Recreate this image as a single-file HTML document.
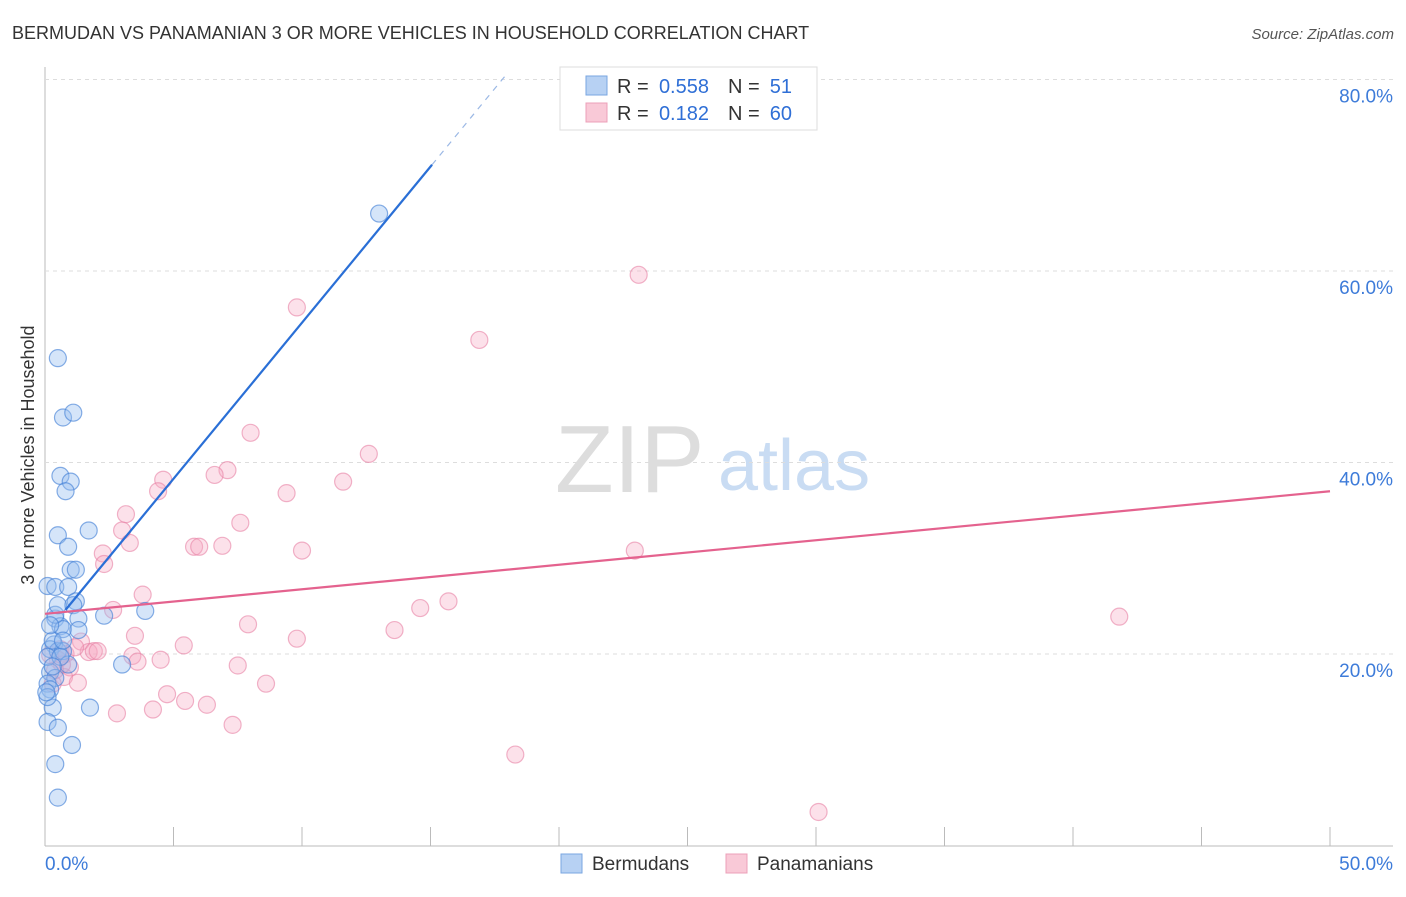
<!DOCTYPE html>
<html><head><meta charset="utf-8"><style>
body{margin:0;background:#fff;font-family:"Liberation Sans",sans-serif}
svg text{font-family:"Liberation Sans",sans-serif}
</style></head><body>
<svg id="c" width="1406" height="892">
<text x="12" y="39" font-size="18" fill="#333">BERMUDAN VS PANAMANIAN 3 OR MORE VEHICLES IN HOUSEHOLD CORRELATION CHART</text>
<text x="1394" y="39" font-size="15" fill="#555" font-style="italic" text-anchor="end">Source: ZipAtlas.com</text>
<text x="555" y="492" font-size="96" fill="#ddd" font-family="Liberation Serif">ZIP</text>
<text x="718" y="490" font-size="72" fill="#c9dcf3">atlas</text>
<text transform="translate(34,455) rotate(-90)" font-size="18" fill="#333" text-anchor="middle">3 or more Vehicles in Household</text>
<g id="grid"></g><g id="pts"></g><g id="lines"></g>
<g>
<rect x="560" y="67" width="257" height="63" fill="#fff" stroke="#ddd"/>
<rect x="586" y="76" width="21" height="19" fill="#b7d1f3" stroke="#7aa6e0"/>
<rect x="586" y="103" width="21" height="19" fill="#f9c9d7" stroke="#eca0b8"/>
<text x="617" y="93" font-size="20" fill="#333">R =</text>
<text x="709" y="93" font-size="20" fill="#2f6fd6" text-anchor="end">0.558</text>
<text x="728" y="93" font-size="20" fill="#333">N =</text>
<text x="792" y="93" font-size="20" fill="#2f6fd6" text-anchor="end">51</text>
<text x="617" y="120" font-size="20" fill="#333">R =</text>
<text x="709" y="120" font-size="20" fill="#2f6fd6" text-anchor="end">0.182</text>
<text x="728" y="120" font-size="20" fill="#333">N =</text>
<text x="792" y="120" font-size="20" fill="#2f6fd6" text-anchor="end">60</text>
</g>
<g>
<rect x="561" y="854" width="21" height="19" fill="#b7d1f3" stroke="#7aa6e0"/>
<text x="592" y="870" font-size="19" fill="#333">Bermudans</text>
<rect x="726" y="854" width="21" height="19" fill="#f9c9d7" stroke="#eca0b8"/>
<text x="757" y="870" font-size="19" fill="#333">Panamanians</text>
</g>
</svg>
<script>
const xTicks=[0,50];
const yTicks=[20,40,60,80];
const blueX=[13.0,0.5,0.7,1.1,0.6,1.0,0.8,0.5,1.7,0.9,1.0,1.2,0.1,0.4,0.9,1.2,1.1,3.9,2.3,1.3,0.4,0.6,0.7,1.3,0.35,0.2,0.5,0.7,0.9,3.0,0.2,0.4,0.1,0.2,0.3,1.75,0.1,0.5,1.05,0.4,0.5,0.1,0.3,0.6,0.1,0.4,0.2,0.5,0.05,0.3,0.7];
const blueY=[66.0,50.9,44.7,45.2,38.6,38.0,37.0,32.4,32.9,31.2,28.8,28.8,27.1,27.0,27.0,25.5,25.1,24.5,24.0,23.7,23.7,22.9,22.6,22.5,21.0,20.5,20.3,20.3,18.9,18.9,18.1,17.5,16.9,16.3,14.4,14.4,12.9,12.3,10.5,8.5,5.0,19.7,21.4,19.7,15.5,24.1,23.0,25.1,16.0,18.7,21.4];
const pinkX=[23.1,9.8,16.9,8.0,12.6,7.1,6.6,4.6,4.4,11.6,9.4,3.15,7.6,3.0,3.3,2.25,5.8,6.0,6.9,10.0,22.95,2.3,3.8,15.7,14.6,2.65,41.8,7.9,3.5,13.6,1.4,5.4,9.8,1.7,1.9,2.05,0.6,0.8,3.4,4.5,3.6,7.5,0.97,0.5,0.74,1.28,8.6,0.3,4.75,5.45,6.3,4.2,2.8,7.3,18.3,30.1,0.66,0.39,1.17,0.2];
const pinkY=[59.6,56.2,52.8,43.1,40.9,39.2,38.7,38.2,37.0,38.0,36.8,34.6,33.7,32.9,31.6,30.5,31.2,31.2,31.3,30.8,30.8,29.4,26.2,25.5,24.8,24.6,23.9,23.1,21.9,22.5,21.3,20.9,21.6,20.2,20.3,20.3,20.5,20.0,19.8,19.4,19.2,18.8,18.6,19.4,17.6,17.0,16.9,16.9,15.8,15.1,14.7,14.2,13.8,12.6,9.5,3.5,18.9,18.3,20.7,19.9];
const blueLine=[0.8,15.06,17.9];
const pinkLine=[0,50];
const bS=3.26,bI=22.0,pS=0.256,pI=24.2;
const X=v=>45+v*25.7, Y=v=>845.5-v*9.575;
const NS='http://www.w3.org/2000/svg';
function mk(t,a,p){const e=document.createElementNS(NS,t);for(const k in a)e.setAttribute(k,a[k]);p.appendChild(e);return e;}
const grid=document.getElementById('grid'),pts=document.getElementById('pts'),lines=document.getElementById('lines'),svg=document.getElementById('c');
let ax=mk('line',{x1:45,y1:67,x2:45,y2:846,stroke:'#bbb'},grid);


let bx=mk('line',{x1:45,y1:846,x2:1393,y2:846,stroke:'#bbb'},grid);


for(let i=1;i<=10;i++){const l=mk('line',{x1:45+i*128.5,x2:45+i*128.5,y1:827,y2:846,stroke:'#bbb'},grid);

}
yTicks.forEach(v=>{const l=mk('line',{x1:45,x2:1393,y1:Y(v),y2:Y(v),stroke:'#ddd','stroke-dasharray':'4,4'},grid);


const t=mk('text',{x:1393,y:Y(v)+23,'font-size':19,fill:'#3d7bd9','text-anchor':'end'},svg);t.textContent=v.toFixed(1)+'%';

});
xTicks.forEach((v,i)=>{const t=mk('text',{x:i?1393:45,y:870,'font-size':19,fill:'#3d7bd9','text-anchor':i?'end':'start'},svg);t.textContent=v.toFixed(1)+'%';

});
pinkX.forEach((x,i)=>{const c=mk('circle',{cx:X(x),cy:Y(pinkY[i]),r:8.5,fill:'rgba(246,170,195,0.35)',stroke:'rgba(232,130,165,0.6)','stroke-width':1.2},pts);

});
blueX.forEach((x,i)=>{const c=mk('circle',{cx:X(x),cy:Y(blueY[i]),r:8.5,fill:'rgba(150,190,240,0.4)',stroke:'rgba(70,130,215,0.65)','stroke-width':1.2},pts);

});
let l1=mk('line',{x1:X(blueLine[0]),y1:Y(bI+bS*blueLine[0]),x2:X(blueLine[1]),y2:Y(bI+bS*blueLine[1]),stroke:'#2a6fd6','stroke-width':2.2},lines);


let l2=mk('line',{x1:X(blueLine[1]),y1:Y(bI+bS*blueLine[1]),x2:X(blueLine[2]),y2:Y(bI+bS*blueLine[2]),stroke:'#9bb8e5','stroke-width':1.2,'stroke-dasharray':'6,6'},lines);


let l3=mk('line',{x1:X(pinkLine[0]),y1:Y(pI+pS*pinkLine[0]),x2:X(pinkLine[1]),y2:Y(pI+pS*pinkLine[1]),stroke:'#e4628e','stroke-width':2.2},lines);


</script>
</body></html>
